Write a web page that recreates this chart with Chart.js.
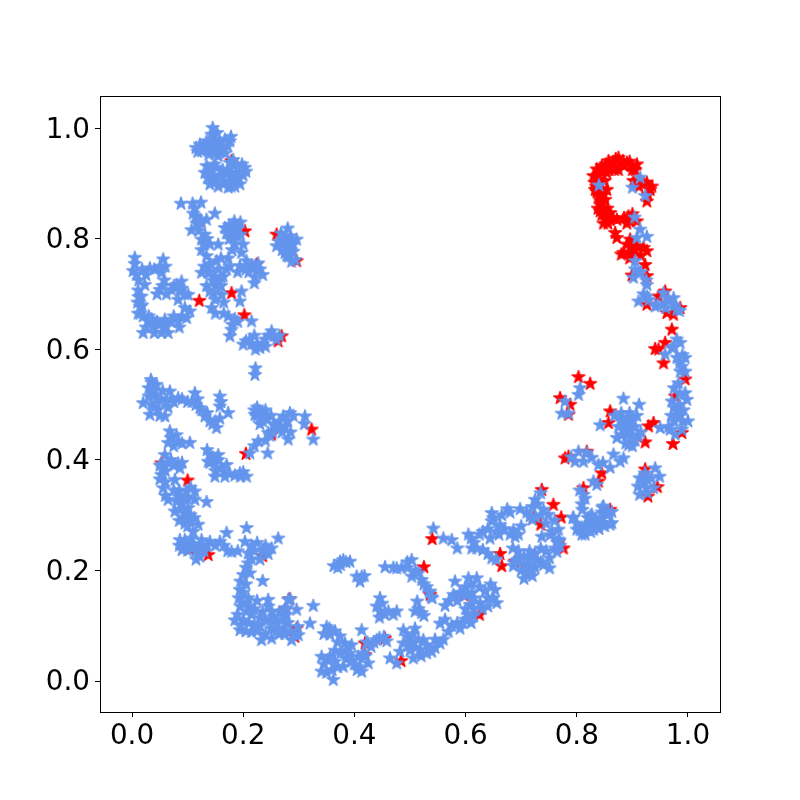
<!DOCTYPE html>
<html>
<head>
<meta charset="utf-8">
<script src="https://cdn.jsdelivr.net/npm/chart.js@4"></script>
<style>
  html, body { margin: 0; padding: 0; background: #fff; }
  canvas { display: block; }
</style>
</head>
<body>
<canvas id="grafica" width="800" height="800"></canvas>
<script>
// valores: [x, y]
const redPoints = [
  [.179,.941],[.121,.832],[.203,.814],[.224,.754],[.179,.702],[.121,.688],[.202,.662],[.263,.615],[.269,.624],
  [.260,.808],[.296,.760],[.281,.772],[.323,.455],[.251,.446],[.205,.411],[.053,.394],[.100,.363],
  [.104,.239],[.137,.228],[.235,.226],[.283,.148],[.275,.129],[.296,.095],[.293,.080],
  [.525,.206],[.536,.156],[.597,.155],[.625,.120],[.419,.068],[.455,.077],[.419,.047],[.484,.036],[.500,.068],
  [.540,.257],[.662,.230],[.665,.208],[.689,.216],[.737,.346],[.758,.319],[.772,.296],[.735,.283],[.722,.295],
  [.767,.252],[.776,.240],[.812,.349],[.839,.361],[.860,.310],
  [.830,.914],[.836,.926],[.845,.932],[.857,.941],[.875,.947],[.890,.938],[.908,.935],[.854,.920],[.845,.920],
  [.866,.938],[.883,.941],[.899,.932],[.833,.889],[.839,.877],[.842,.862],[.845,.844],[.854,.835],[.860,.847],
  [.851,.871],[.854,.889],[.839,.908],[.872,.835],[.893,.841],[.908,.832],[.869,.811],[.872,.802],[.902,.905],
  [.926,.902],[.932,.889],[.926,.868],[.920,.902],
  [.832,.902],[.835,.895],[.838,.915],[.848,.925],[.852,.935],[.862,.930],[.870,.945],[.878,.938],[.885,.932],
  [.895,.940],[.900,.925],[.905,.925],[.858,.925],[.868,.925],[.875,.925],[.850,.905],[.842,.900],[.845,.890],
  [.836,.885],[.842,.870],[.848,.880],[.838,.855],[.848,.855],[.845,.865],[.855,.855],[.850,.845],[.842,.850],
  [.860,.835],[.848,.828],[.856,.828],[.865,.838],[.885,.838],[.895,.832],[.900,.845],[.890,.828],[.912,.895],
  [.928,.880],[.935,.895],
  [.896,.799],[.893,.775],[.920,.784],[.926,.778],[.908,.787],[.884,.775],[.923,.753],[.899,.734],[.926,.733],
  [.880,.772],[.905,.780],[.915,.770],[.890,.790],[.900,.785],[.900,.770],[.895,.765],
  [.926,.681],[.959,.705],[.962,.666],[.974,.663],[.986,.675],[.947,.696],[.971,.636],[.941,.601],[.959,.612],
  [.956,.575],[.947,.600],[.995,.546],[.929,.461],[.938,.467],[.989,.449],[.973,.429],[.977,.515],
  [.857,.467],[.923,.432],[.860,.488],[.785,.406],[.818,.415],[.770,.512],[.788,.500],[.785,.482],
  [.803,.550],[.824,.538],[.845,.376],[.779,.403],[.928,.334],[.945,.351],[.923,.383]
];

const bluePoints = [
  [.145,1.001],[.122,.971],[.134,.977],[.149,.980],[.167,.980],[.176,.977],[.125,.959],[.146,.962],[.161,.959],
  [.152,.971],[.143,.989],[.155,.950],[.158,.974],
  [.115,.965],[.118,.958],[.138,.953],[.150,.955],[.172,.968],[.178,.985],[.163,.965],[.143,.975],[.128,.968],
  [.153,.992],[.148,.968],[.137,.962],[.168,.955],
  [.134,.932],[.131,.920],[.140,.899],[.158,.911],[.173,.893],[.194,.899],[.203,.929],[.182,.935],[.152,.929],
  [.170,.917],[.185,.905],[.188,.920],
  [.145,.915],[.150,.905],[.163,.925],[.175,.905],[.165,.900],[.180,.915],[.192,.910],[.200,.915],[.143,.925],
  [.136,.910],[.178,.895],[.155,.895],[.205,.922],[.198,.935],[.190,.930],[.148,.935],[.160,.915],[.172,.925],[.185,.895],
  [.088,.864],[.109,.864],[.124,.866],[.110,.846],[.107,.816],[.116,.828],[.149,.846],[.134,.835],[.131,.808],
  [.125,.799],[.155,.790],
  [.184,.832],[.167,.820],[.179,.811],[.191,.820],[.185,.790],[.197,.775],[.173,.765],[.134,.769],[.152,.760],
  [.137,.739],[.125,.739],[.164,.732],[.149,.730],[.134,.715],[.206,.760],[.194,.751],[.230,.745],[.221,.730],
  [.146,.702],[.161,.699],[.197,.705],[.194,.687],[.143,.675],[.104,.669],[.098,.657],[.173,.660],
  [.215,.651],[.179,.636],[.176,.624],
  [.175,.825],[.185,.820],[.195,.830],[.180,.825],[.175,.800],[.185,.805],[.195,.808],[.170,.810],
  [.190,.805],[.200,.790],[.180,.780],[.160,.765],[.175,.750],[.190,.740],[.205,.745],[.215,.750],[.140,.755],
  [.130,.750],[.140,.740],[.155,.745],[.150,.715],[.160,.715],[.140,.705],[.150,.690],[.165,.685],
  [.125,.780],[.130,.790],[.120,.815],[.115,.840],[.113,.855],[.125,.830],[.140,.790],[.135,.800],
  [.210,.740],[.225,.745],[.235,.735],[.220,.720],[.160,.730],[.170,.745],[.145,.725],
  [.005,.766],[.002,.742],[.011,.707],[.015,.677],[.011,.665],[.032,.747],[.056,.763],[.053,.739],[.050,.708],
  [.023,.717],[.017,.696],[.080,.717],[.089,.723],[.071,.708],[.101,.699],[.083,.690],
  [.029,.651],[.020,.630],[.059,.654],[.053,.630],[.038,.642],[.083,.651],
  [.005,.755],[.008,.735],[.012,.725],[.018,.745],[.025,.735],[.040,.745],[.050,.750],[.060,.750],[.058,.725],
  [.055,.715],[.045,.700],[.062,.700],[.012,.695],[.018,.680],[.015,.665],[.020,.660],[.010,.685],
  [.025,.640],[.035,.655],[.045,.650],[.040,.630],[.060,.640],[.050,.645],[.070,.650],[.065,.630],[.030,.660],
  [.075,.660],[.090,.660],[.085,.640],[.095,.675],[.095,.700],[.085,.705],[.075,.715],[.090,.710],
  [.150,.665],[.165,.665],[.180,.645],[.185,.655],[.190,.650],
  [.251,.633],[.230,.603],[.212,.618],[.200,.609],[.239,.618],[.260,.618],[.222,.566],[.221,.554],
  [.205,.615],[.220,.625],[.225,.610],[.235,.610],[.245,.625],[.255,.625],[.265,.625],[.240,.605],[.222,.600],[.215,.610],
  [.280,.819],[.260,.787],[.296,.799],[.278,.802],[.287,.759],[.281,.768],[.290,.777],
  [.270,.800],[.285,.805],[.275,.795],[.265,.795],[.285,.790],[.270,.780],[.280,.785],[.290,.790],[.275,.775],
  [.268,.810],[.285,.780],[.282,.775],[.278,.770],[.294,.762],
  [.034,.545],[.030,.530],[.044,.536],[.020,.503],[.038,.518],[.053,.509],[.068,.524],[.032,.482],[.059,.479],
  [.047,.491],[.083,.512],[.113,.521],[.122,.494],[.158,.515],[.158,.497],[.173,.485],[.131,.479],[.152,.458],
  [.035,.540],[.040,.525],[.055,.525],[.030,.515],[.045,.510],[.060,.505],[.070,.510],[.040,.495],[.035,.500],
  [.065,.495],[.050,.480],[.075,.505],[.090,.510],[.100,.505],[.108,.505],[.118,.510],[.115,.500],[.125,.490],
  [.135,.485],[.140,.470],[.150,.470],[.160,.505],[.158,.475],[.145,.465],
  [.230,.488],[.221,.482],[.243,.473],[.272,.479],[.284,.485],[.311,.479],[.266,.458],[.281,.437],[.326,.437],
  [.245,.449],[.227,.434],[.212,.412],[.244,.412],
  [.225,.480],[.230,.475],[.235,.485],[.240,.480],[.225,.495],[.220,.490],[.240,.490],[.235,.470],[.250,.480],
  [.230,.465],[.265,.470],[.280,.470],[.275,.460],[.270,.450],[.285,.450],[.255,.465],[.260,.460],[.290,.480],
  [.310,.465],[.240,.435],[.220,.425],[.253,.450],[.248,.444],
  [.068,.452],[.065,.431],[.083,.433],[.104,.431],[.059,.409],[.083,.394],[.053,.373],[.077,.364],[.086,.385],
  [.135,.418],[.137,.397],[.155,.409],[.149,.370],[.167,.370],[.170,.391],[.194,.376],[.206,.370],
  [.070,.440],[.075,.425],[.080,.445],[.090,.430],[.065,.395],[.060,.380],[.070,.400],[.075,.390],[.090,.395],
  [.055,.385],[.050,.365],[.060,.360],[.140,.410],[.145,.400],[.150,.395],[.155,.400],[.160,.385],[.150,.380],
  [.145,.405],[.140,.395],[.165,.380],[.175,.375],[.185,.372],[.200,.378],[.195,.370],[.056,.392],[.050,.390],
  [.056,.349],[.065,.328],[.113,.343],[.134,.324],[.098,.343],[.083,.334],[.077,.307],[.101,.313],[.113,.328],
  [.092,.295],[.119,.283],[.104,.289],
  [.060,.335],[.075,.345],[.085,.345],[.095,.330],[.105,.350],[.080,.325],[.090,.320],[.085,.310],[.095,.305],
  [.100,.330],[.105,.300],[.112,.295],[.085,.290],[.095,.285],[.110,.270],[.100,.280],
  [.086,.255],[.090,.237],[.107,.258],[.122,.225],[.140,.252],[.122,.243],[.158,.252],[.170,.268],[.179,.234],
  [.206,.277],[.203,.252],[.236,.237],[.251,.240],[.263,.258],[.209,.231],
  [.085,.245],[.095,.255],[.100,.245],[.110,.248],[.115,.235],[.130,.235],[.135,.245],[.125,.255],[.115,.220],
  [.150,.245],[.165,.245],[.172,.235],[.190,.235],[.215,.245],[.220,.235],[.225,.250],[.240,.245],
  [.245,.230],[.230,.220],[.215,.220],[.205,.205],[.212,.195],[.195,.180],[.205,.175],[.200,.160],[.195,.135],
  [.200,.140],[.210,.135],[.107,.241],[.100,.236],[.237,.232],
  [.209,.213],[.200,.192],[.235,.181],[.194,.165],[.192,.150],[.209,.150],[.281,.147],[.326,.136],[.245,.147],
  [.296,.129],[.320,.104],[.185,.110],[.194,.092],[.215,.089],[.233,.074],[.251,.077],[.272,.095],[.287,.074],
  [.299,.083],[.230,.114],[.206,.126],[.251,.126],[.278,.120],[.260,.107],
  [.190,.120],[.200,.110],[.210,.105],[.220,.100],[.195,.100],[.205,.090],[.225,.090],[.240,.085],[.250,.095],
  [.235,.125],[.240,.110],[.255,.115],[.265,.125],[.270,.110],[.280,.105],[.285,.090],[.265,.085],[.245,.135],
  [.220,.130],[.225,.145],[.215,.120],[.260,.090],[.275,.085],[.230,.100],[.250,.110],
  [.298,.098],[.293,.083],[.278,.132],[.272,.126],[.285,.148],
  [.374,.216],[.380,.219],[.363,.208],[.392,.216],[.413,.189],[.404,.189],
  [.375,.210],[.385,.215],[.370,.205],[.410,.180],[.418,.190],
  [.455,.206],[.476,.204],[.503,.219],[.503,.189],[.521,.183],[.536,.162],
  [.470,.205],[.485,.205],[.495,.205],[.510,.200],[.495,.215],[.515,.195],[.525,.175],[.530,.170],[.540,.150],
  [.446,.150],[.446,.126],[.476,.126],[.461,.126],[.513,.144],[.521,.123],[.509,.126],
  [.440,.135],[.450,.140],[.445,.115],[.455,.120],[.470,.120],[.515,.130],[.525,.118],
  [.581,.180],[.578,.156],[.563,.136],[.605,.186],[.620,.186],[.611,.159],[.653,.165],[.656,.141],[.635,.162],
  [.626,.141],[.608,.138],[.599,.111],[.614,.117],[.590,.095],[.563,.111],[.554,.104],[.569,.089],
  [.590,.160],[.585,.145],[.570,.145],[.600,.170],[.610,.175],[.625,.170],[.615,.150],[.640,.150],[.650,.150],
  [.630,.130],[.615,.130],[.605,.120],[.595,.105],[.585,.105],[.575,.100],[.610,.105],[.600,.130],[.645,.175],
  [.640,.135],[.600,.155],[.593,.158],[.535,.160],[.538,.152],
  [.350,.098],[.356,.084],[.374,.081],[.383,.068],[.413,.092],[.341,.044],[.356,.044],[.341,.017],[.362,.002],
  [.380,.026],[.392,.050],[.413,.017],[.425,.032],[.407,.044],[.440,.074],[.425,.068],[.464,.041],[.476,.032],
  [.345,.030],[.352,.038],[.365,.035],[.370,.025],[.385,.040],[.395,.035],[.375,.050],[.400,.030],[.410,.025],
  [.360,.020],[.350,.015],[.420,.045],[.385,.055],[.355,.095],[.365,.090],[.345,.085],[.370,.070],[.365,.055],
  [.395,.065],[.445,.078],[.435,.070],[.430,.062],[.415,.050],[.405,.020],
  [.422,.070],[.417,.045],[.453,.080],[.458,.072],[.503,.070],[.498,.066],
  [.488,.092],[.509,.095],[.482,.053],[.506,.041],[.524,.074],[.539,.053],[.554,.068],[.488,.068],[.518,.056],
  [.495,.080],[.505,.085],[.515,.075],[.530,.065],[.545,.060],[.530,.050],[.520,.045],[.500,.055],
  [.560,.075],[.510,.060],[.545,.075],
  [.542,.276],[.575,.255],[.585,.240],[.560,.258],[.610,.258],[.611,.240],[.631,.270],[.644,.258],[.647,.304],
  [.647,.289],[.675,.311],[.662,.282],[.686,.273],[.689,.261],[.698,.311],[.685,.240],[.631,.237],[.647,.222],
  [.686,.208],[.707,.195],[.716,.222],[.728,.219],[.719,.204],[.751,.204],[.751,.222],[.764,.234],
  [.605,.265],[.615,.250],[.620,.240],[.625,.265],[.640,.275],[.655,.270],[.660,.265],[.650,.295],[.665,.300],
  [.680,.305],[.670,.275],[.680,.265],[.695,.265],[.700,.280],[.640,.230],[.655,.220],[.695,.235],[.705,.225],
  [.705,.210],[.715,.205],[.725,.205],[.710,.200],[.735,.215],[.700,.200],[.695,.220],[.735,.240],[.745,.235],
  [.740,.210],[.720,.190],[.705,.185],[.715,.235],[.725,.230],[.760,.240],[.770,.245],[.692,.218],[.687,.214],
  [.716,.298],[.725,.328],[.737,.261],[.752,.264],[.749,.301],[.767,.274],[.767,.256],[.794,.296],[.827,.301],
  [.710,.305],[.720,.315],[.730,.320],[.740,.310],[.735,.300],[.745,.285],[.760,.290],[.755,.270],
  [.725,.297],[.720,.292],[.769,.254],[.765,.250],[.735,.340],
  [.812,.337],[.809,.320],[.830,.361],[.800,.274],[.809,.265],[.830,.274],[.848,.316],[.844,.286],[.863,.286],
  [.800,.285],[.815,.280],[.825,.285],[.835,.290],[.845,.295],[.855,.300],[.820,.295],[.810,.275],[.840,.275],
  [.815,.265],[.825,.270],[.835,.285],[.850,.280],[.845,.305],[.805,.345],[.815,.330],[.810,.310],[.793,.295],
  [.824,.298],[.806,.273],[.860,.283],[.841,.285],[.818,.273],[.846,.314],[.863,.306],[.857,.305],
  [.941,.385],[.949,.370],[.913,.367],[.927,.364],[.913,.337],[.938,.349],[.923,.376],[.910,.352],[.927,.340],
  [.920,.358],[.934,.367],[.925,.349],
  [.803,.415],[.812,.397],[.827,.404],[.847,.395],[.866,.410],[.884,.403],[.860,.386],[.839,.391],[.818,.413],
  [.797,.397],[.878,.397],[.790,.405],[.836,.355],
  [.884,.511],[.912,.500],[.868,.480],[.884,.473],[.842,.463],[.872,.440],[.893,.467],[.908,.480],[.911,.443],
  [.893,.427],
  [.880,.470],[.890,.475],[.900,.470],[.885,.455],[.895,.455],[.905,.460],[.890,.445],[.880,.445],[.900,.445],
  [.915,.450],[.905,.435],[.875,.460],[.895,.485],[.880,.485],[.888,.430],[.900,.425],
  [.840,.897],[.914,.911],[.900,.893],[.923,.878],[.904,.839],
  [.914,.817],[.908,.802],[.926,.804],[.905,.760],[.912,.738],[.902,.730],[.926,.717],[.911,.687],[.941,.678],
  [.956,.702],[.974,.693],[.980,.672],[.926,.696],[.959,.684],
  [.915,.740],[.925,.725],[.905,.745],[.920,.700],[.930,.690],[.945,.680],[.965,.690],[.960,.675],[.975,.680],[.985,.670],
  [.959,.591],[.980,.618],[.971,.603],[.986,.612],[.995,.585],[.989,.569],[.986,.560],[.983,.539],
  [.995,.560],[.985,.575],[.990,.590],[.980,.585],[.975,.605],
  [.995,.521],[.971,.506],[.998,.509],[.980,.490],[.992,.490],[.983,.479],[1.0,.470],[.950,.458],[.968,.455],
  [.989,.455],[.977,.446],
  [.975,.530],[.985,.520],[.975,.495],[.985,.500],[.970,.480],[.975,.470],[.990,.470],[.965,.460],[.985,.480],
  [.779,.506],[.773,.484],[.785,.484],[.806,.530],[.803,.518],
  [.182,.943],[.176,.938],[.123,.835],[.119,.830],[.227,.756],[.221,.751]
];

const tickValues = [0, 0.2, 0.4, 0.6, 0.8, 1.0];
const xLimits = [-0.0576, 1.0576];
const yLimits = [-0.0561, 1.0588];

// estrella rellena de 5 puntas con borde, para usar como pointStyle
function hacerEstrella(color) {
  const c = document.createElement("canvas");
  c.width = 20;
  c.height = 20;
  const g = c.getContext("2d");
  const r = 6.7;
  g.fillStyle = color;
  g.strokeStyle = color;
  g.lineWidth = 1.3;
  g.lineJoin = "round";
  g.beginPath();
  for (let i = 0; i < 10; i++) {
    const rad = i % 2 === 0 ? r : r * 0.382;
    const ang = -Math.PI / 2 + (i * Math.PI) / 5;
    g.lineTo(10 + rad * Math.cos(ang), 10 + rad * Math.sin(ang));
  }
  g.closePath();
  g.fill();
  g.stroke();
  return c;
}

function fijarTicks(scale) {
  scale.ticks = tickValues.map((v) => ({ value: v }));
}

const marco = {
  id: "marco",
  afterDraw(chart) {
    const a = chart.chartArea;
    const ctx = chart.ctx;
    ctx.save();
    ctx.strokeStyle = "#000";
    ctx.lineWidth = 1;
    ctx.strokeRect(a.left + 0.5, a.top + 0.5, a.right - a.left, a.bottom - a.top);
    ctx.restore();
  },
};

const ejeComun = {
  type: "linear",
  afterBuildTicks: fijarTicks,
  border: { display: false },
  grid: { drawOnChartArea: false, drawTicks: true, tickLength: 5, tickColor: "#000", tickWidth: 1 },
};

const ticksComun = {
  color: "#000",
  font: { family: "DejaVu Sans", size: 27.8 },
  maxRotation: 0,
  autoSkip: false,
  callback: (v) => v.toFixed(1),
};

new Chart(document.getElementById("grafica"), {
  type: "scatter",
  data: {
    datasets: [
      {
        label: "azul",
        data: bluePoints.map((p) => ({ x: p[0], y: p[1] })),
        pointStyle: hacerEstrella("#6495ED"),
      },
      {
        label: "rojo",
        data: redPoints.map((p) => ({ x: p[0], y: p[1] })),
        pointStyle: hacerEstrella("#FF0000"),
      },
    ],
  },
  options: {
    responsive: false,
    animation: false,
    layout: { padding: { top: 96, right: 80, left: 0, bottom: 0 } },
    plugins: { legend: { display: false }, tooltip: { enabled: false } },
    scales: {
      x: {
        ...ejeComun,
        min: xLimits[0],
        max: xLimits[1],
        ticks: { ...ticksComun, padding: 3 },
        afterFit: (s) => { s.height = 88; },
      },
      y: {
        ...ejeComun,
        min: yLimits[0],
        max: yLimits[1],
        ticks: { ...ticksComun, padding: 5, labelOffset: 2 },
        afterFit: (s) => { s.width = 100; },
      },
    },
  },
  plugins: [marco],
});
</script>
</body>
</html>
